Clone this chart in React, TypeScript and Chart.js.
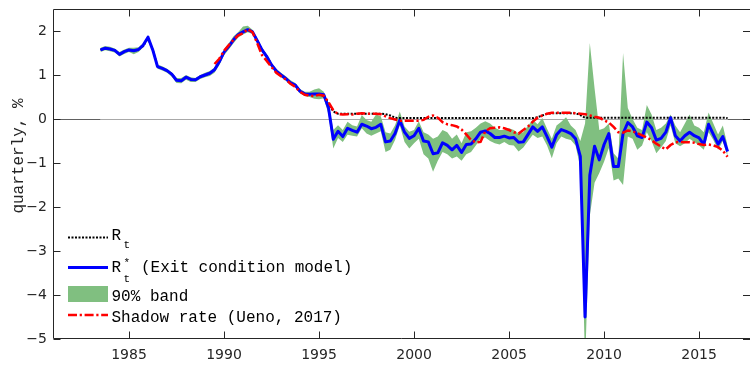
import React, { useEffect, useRef } from "react";
import { Chart, registerables } from "chart.js";

Chart.register(...registerables);

// ---- data (quarterly, starting 1983Q3 = 1983.5) ----
const START_QUARTER = 1983.5;
const SHADOW_START = 1989.5;
const X_MIN = 1981;
const X_MAX = 2017.68;
const Y_MIN = -5;
const Y_MAX = 2.5;
const xTickValues = [1985, 1990, 1995, 2000, 2005, 2010, 2015];
const yTickValues = [-5, -4, -3, -2, -1, 0, 1, 2];

// R*_t (Exit condition model)
const rStar = [
  1.57, 1.61,
  1.59, 1.56, 1.47, 1.53,
  1.57, 1.55, 1.58, 1.68,
  1.86, 1.57, 1.19, 1.15,
  1.10, 1.02, 0.88, 0.87,
  0.95, 0.90, 0.89, 0.96,
  1.00, 1.04, 1.12, 1.30,
  1.52, 1.65, 1.80, 1.92,
  1.98, 2.03, 1.98, 1.78,
  1.57, 1.42, 1.23, 1.09,
  1.00, 0.92, 0.82, 0.77,
  0.63, 0.57, 0.56, 0.57,
  0.57, 0.55, 0.25, -0.46,
  -0.28, -0.40, -0.21, -0.26,
  -0.30, -0.12, -0.16, -0.22,
  -0.19, -0.12, -0.52, -0.50,
  -0.33, -0.03, -0.30, -0.44,
  -0.38, -0.21, -0.50, -0.52,
  -0.79, -0.77, -0.54, -0.60,
  -0.70, -0.60, -0.76, -0.58,
  -0.57, -0.45, -0.30, -0.27,
  -0.33, -0.42, -0.42, -0.39,
  -0.43, -0.42, -0.53, -0.52,
  -0.35, -0.18, -0.28, -0.18,
  -0.40, -0.64, -0.36, -0.24,
  -0.28, -0.33, -0.45, -0.85,
  -4.50, -1.28, -0.62, -0.93,
  -0.58, -0.33, -1.08, -1.08,
  -0.33, -0.08, -0.18, -0.38,
  -0.42, -0.07, -0.20, -0.48,
  -0.44, -0.30, 0.03, -0.38,
  -0.50, -0.38, -0.30, -0.38,
  -0.43, -0.58, -0.12, -0.35,
  -0.57, -0.40, -0.74,
];

// R_t (observed)
const rObserved = [
  1.57, 1.61,
  1.59, 1.56, 1.47, 1.53,
  1.57, 1.55, 1.58, 1.66,
  1.84, 1.57, 1.19, 1.15,
  1.10, 1.02, 0.88, 0.87,
  0.95, 0.90, 0.89, 0.96,
  1.00, 1.04, 1.12, 1.30,
  1.52, 1.65, 1.80, 1.92,
  1.98, 2.03, 1.98, 1.78,
  1.57, 1.42, 1.23, 1.09,
  1.00, 0.92, 0.82, 0.77,
  0.63, 0.57, 0.56, 0.57,
  0.57, 0.52, 0.35, 0.17,
  0.12, 0.12, 0.12, 0.12,
  0.12, 0.12, 0.12, 0.12,
  0.12, 0.12, 0.11, 0.08,
  0.03, 0.02, 0.02, 0.02,
  0.02, 0.02, 0.02, 0.02,
  0.02, 0.02, 0.02, 0.02,
  0.02, 0.02, 0.02, 0.02,
  0.02, 0.02, 0.02, 0.02,
  0.02, 0.02, 0.02, 0.02,
  0.02, 0.02, 0.02, 0.02,
  0.02, 0.02, 0.04, 0.08,
  0.12, 0.13, 0.13, 0.13,
  0.13, 0.13, 0.13, 0.09,
  0.03, 0.03, 0.03, 0.03,
  0.03, 0.03, 0.03, 0.03,
  0.03, 0.03, 0.03, 0.03,
  0.03, 0.03, 0.03, 0.03,
  0.03, 0.03, 0.03, 0.03,
  0.03, 0.03, 0.03, 0.03,
  0.03, 0.03, 0.03, 0.03,
  0.03, 0.03, 0.02,
];

// 90% band
const bandUpper = [
  1.62, 1.66,
  1.64, 1.60, 1.52, 1.58,
  1.62, 1.62, 1.63, 1.72,
  1.90, 1.62, 1.24, 1.20,
  1.14, 1.06, 0.93, 0.93,
  1.00, 0.95, 0.93, 1.00,
  1.05, 1.09, 1.17, 1.36,
  1.58, 1.72, 1.88, 1.98,
  2.10, 2.12, 2.03, 1.83,
  1.62, 1.47, 1.28, 1.14,
  1.05, 0.97, 0.88, 0.82,
  0.68, 0.62, 0.62, 0.67,
  0.70, 0.62, 0.35, -0.25,
  -0.14, -0.25, -0.06, -0.14,
  -0.17, 0.09, -0.02, -0.06,
  0.10, 0.06, -0.30, -0.33,
  -0.14, 0.17, -0.17, -0.29,
  -0.25, -0.05, -0.30, -0.35,
  -0.45, -0.40, -0.25, -0.30,
  -0.45, -0.35, -0.55, -0.30,
  -0.28, -0.20, -0.10, -0.05,
  -0.10, -0.20, -0.25, -0.25,
  -0.21, -0.25, -0.33, -0.30,
  -0.15, -0.02, -0.12, 0.02,
  -0.22, -0.45, -0.15, -0.06,
  0.04, -0.15, -0.25, -0.50,
  -0.10, 1.73, 0.70, -0.25,
  -0.21, -0.10, -0.78, -0.90,
  1.50, 0.25, 0.00, -0.20,
  -0.25, 0.32, 0.10, -0.25,
  -0.20, -0.10, 0.10, -0.15,
  -0.30, -0.10, 0.10, -0.15,
  -0.20, -0.30, 0.15, -0.10,
  -0.35, -0.15, -0.60,
];

const bandLower = [
  1.52, 1.56,
  1.54, 1.51, 1.42, 1.48,
  1.52, 1.47, 1.52, 1.63,
  1.81, 1.52, 1.14, 1.10,
  1.05, 0.96, 0.82, 0.81,
  0.89, 0.84, 0.84, 0.91,
  0.95, 0.98, 1.05, 1.22,
  1.45, 1.58, 1.72, 1.85,
  1.92, 1.97, 1.93, 1.73,
  1.52, 1.37, 1.18, 1.04,
  0.95, 0.87, 0.77, 0.72,
  0.58, 0.52, 0.50, 0.46,
  0.45, 0.47, 0.10, -0.67,
  -0.43, -0.52, -0.36, -0.38,
  -0.40, -0.21, -0.33, -0.38,
  -0.33, -0.28, -0.75, -0.70,
  -0.48, -0.14, -0.52, -0.67,
  -0.55, -0.45, -0.80, -0.90,
  -1.20, -0.95, -0.75, -0.80,
  -0.90, -0.85, -0.95, -0.80,
  -0.75, -0.60, -0.45, -0.42,
  -0.50, -0.55, -0.58, -0.52,
  -0.59, -0.60, -0.74, -0.65,
  -0.50, -0.36, -0.43, -0.40,
  -0.60, -0.89, -0.55, -0.40,
  -0.45, -0.48, -0.60, -1.10,
  -5.60, -2.20, -1.45, -1.23,
  -0.97, -0.66, -1.40, -1.35,
  -1.50, -0.40, -0.45, -0.70,
  -0.60, -0.30, -0.50, -0.78,
  -0.65, -0.50, -0.15, -0.55,
  -0.62, -0.55, -0.45, -0.52,
  -0.60, -0.70, -0.30, -0.48,
  -0.70, -0.50, -0.85,
];

// Shadow rate (Ueno, 2017), starting 1989Q3
const shadowRate = [
  1.25, 1.37,
  1.55, 1.68, 1.80, 1.90,
  1.95, 2.04, 1.97, 1.72,
  1.45, 1.32, 1.18, 1.05,
  0.97, 0.90, 0.80, 0.73,
  0.62, 0.55, 0.53, 0.52,
  0.55, 0.53, 0.38, 0.20,
  0.11, 0.10, 0.11, 0.10,
  0.12, 0.13, 0.12, 0.12,
  0.12, 0.11, 0.06, 0.02,
  -0.01, -0.04, -0.04, -0.04,
  -0.04, -0.04, -0.02, 0.05,
  0.08, 0.03, -0.07, -0.12,
  -0.14, -0.17, -0.24, -0.35,
  -0.48, -0.53, -0.52, -0.28,
  -0.21, -0.20, -0.19, -0.21,
  -0.25, -0.30, -0.33, -0.25,
  -0.17, -0.06, 0.03, 0.08,
  0.12, 0.14, 0.14, 0.14,
  0.14, 0.14, 0.13, 0.12,
  0.11, 0.08, 0.05, 0.03,
  -0.03, -0.08, -0.18, -0.30,
  -0.31, -0.26, -0.28, -0.32,
  -0.37, -0.42, -0.48, -0.56,
  -0.63, -0.69, -0.59, -0.53,
  -0.52, -0.53, -0.53, -0.54,
  -0.57, -0.59, -0.58, -0.60,
  -0.64, -0.72, -0.86,
];

const legendLabels = {
  rt: "R",
  rtSub: "t",
  rStar: "R",
  rStarSup: "*",
  rStarSub: "t",
  rStarRest: "(Exit condition model)",
  band: "90% band",
  shadow: "Shadow rate (Ueno, 2017)",
};
const yTitle = "quarterly, %";

// ---- styles ----
const GREEN = "rgb(128,191,128)";
const BLUE = "#0000ff";
const RED = "#ff0000";
const AXIS = "#262626";
const MONO = '"Liberation Mono", "Courier New", monospace';

function toPoints(values: number[], start: number) {
  return values.map((v, i) => ({ x: start + i * 0.25, y: v }));
}

const decorPlugin = {
  id: "decor",
  beforeDatasetsDraw(chart: any) {
    const { ctx, chartArea: a, scales } = chart;
    const x = scales.x;
    const y = scales.y;
    const y0 = Math.round(y.getPixelForValue(0)) + 0.5;
    const xs = x.getPixelForValue(START_QUARTER);
    const xe = x.getPixelForValue(START_QUARTER + (rStar.length - 1) * 0.25);
    ctx.save();
    ctx.lineWidth = 1;
    ctx.strokeStyle = "#a8a8a8";
    ctx.beginPath();
    ctx.moveTo(xs, y0);
    ctx.lineTo(xe, y0);
    ctx.stroke();
    ctx.strokeStyle = "#606060";
    ctx.beginPath();
    ctx.moveTo(a.left, y0);
    ctx.lineTo(xs, y0);
    ctx.moveTo(xe, y0);
    ctx.lineTo(a.right, y0);
    ctx.stroke();
    ctx.restore();
  },
  afterDatasetsDraw(chart: any) {
    const { ctx, chartArea: a, scales } = chart;
    const x = scales.x;
    const y = scales.y;
    const L = Math.round(a.left) + 0.5;
    const T = Math.round(a.top) + 0.5;
    const B = Math.round(a.bottom) - 0.5;
    const R = a.right;
    const tl = 7;
    ctx.save();
    ctx.strokeStyle = AXIS;
    ctx.lineWidth = 1;
    ctx.setLineDash([]);
    ctx.beginPath();
    ctx.moveTo(L, B);
    ctx.lineTo(L, T);
    ctx.lineTo(R, T);
    ctx.moveTo(L, B);
    ctx.lineTo(R, B);
    for (const v of xTickValues) {
      const px = Math.round(x.getPixelForValue(v)) + 0.5;
      ctx.moveTo(px, T);
      ctx.lineTo(px, T + tl);
      ctx.moveTo(px, B);
      ctx.lineTo(px, B - tl);
    }
    for (const v of yTickValues) {
      const py = Math.round(y.getPixelForValue(v)) + 0.5;
      ctx.moveTo(L, py);
      ctx.lineTo(L + tl, py);
      ctx.moveTo(R, py);
      ctx.lineTo(R - tl, py);
    }
    ctx.stroke();

    // legend
    const lx0 = 68;
    const lx1 = 108;
    ctx.lineWidth = 2;
    ctx.strokeStyle = "#000";
    ctx.setLineDash([2, 1.5]);
    ctx.beginPath();
    ctx.moveTo(lx0, 237.5);
    ctx.lineTo(lx1, 237.5);
    ctx.stroke();

    ctx.setLineDash([]);
    ctx.strokeStyle = BLUE;
    ctx.lineWidth = 3;
    ctx.beginPath();
    ctx.moveTo(lx0, 267.5);
    ctx.lineTo(lx1, 267.5);
    ctx.stroke();

    ctx.fillStyle = GREEN;
    ctx.fillRect(lx0, 286, lx1 - lx0, 16);

    ctx.strokeStyle = RED;
    ctx.lineWidth = 2.5;
    ctx.setLineDash([9, 2.7, 2.2, 2.7]);
    ctx.beginPath();
    ctx.moveTo(lx0, 315);
    ctx.lineTo(lx1, 315);
    ctx.stroke();
    ctx.setLineDash([]);

    ctx.fillStyle = "#000";
    ctx.textAlign = "left";
    ctx.textBaseline = "alphabetic";
    ctx.font = `16px ${MONO}`;
    ctx.fillText(legendLabels.rt, 111.5, 240);
    ctx.fillText(legendLabels.rStar, 111.5, 271.5);
    ctx.fillText(legendLabels.rStarRest, 141, 272);
    ctx.fillText(legendLabels.band, 111.5, 300.5);
    ctx.fillText(legendLabels.shadow, 111.5, 321.5);
    ctx.font = `11px ${MONO}`;
    ctx.fillText(legendLabels.rtSub, 123.5, 248);
    ctx.fillText(legendLabels.rStarSup, 123.5, 266);
    ctx.fillText(legendLabels.rStarSub, 123.5, 281.5);

    // y title
    ctx.fillStyle = AXIS;
    ctx.font = `16px ${MONO}`;
    ctx.translate(19, 156);
    ctx.rotate(-Math.PI / 2);
    ctx.textAlign = "center";
    ctx.textBaseline = "middle";
    ctx.fillText(yTitle, 0, 0);
    ctx.restore();
  },
};

export default function App() {
  const canvasRef = useRef<HTMLCanvasElement | null>(null);

  useEffect(() => {
    const canvas = canvasRef.current;
    if (!canvas) return;
    const chart = new Chart(canvas, {
      type: "line",
      data: {
        datasets: [
          {
            label: "band lower",
            data: toPoints(bandLower, START_QUARTER),
            borderWidth: 0,
            borderColor: "rgba(0,0,0,0)",
            backgroundColor: "rgba(0,0,0,0)",
            pointRadius: 0,
            fill: false,
            order: 4,
          },
          {
            label: "90% band",
            data: toPoints(bandUpper, START_QUARTER),
            borderWidth: 0,
            borderColor: "rgba(0,0,0,0)",
            backgroundColor: GREEN,
            pointRadius: 0,
            fill: "-1",
            order: 3,
          },
          {
            label: "R_t",
            data: toPoints(rObserved, START_QUARTER),
            borderColor: "#000",
            borderWidth: 2,
            borderDash: [2, 1.5],
            pointRadius: 0,
            fill: false,
            order: 2,
          },
          {
            label: "R*_t (Exit condition model)",
            data: toPoints(rStar, START_QUARTER),
            borderColor: BLUE,
            borderWidth: 3,
            borderJoinStyle: "round",
            pointRadius: 0,
            fill: false,
            order: 1,
          },
          {
            label: "Shadow rate (Ueno, 2017)",
            data: toPoints(shadowRate, SHADOW_START),
            borderColor: RED,
            borderWidth: 2.5,
            borderDash: [9, 2.7, 2.2, 2.7],
            pointRadius: 0,
            fill: false,
            order: 0,
          },
        ],
      },
      options: {
        animation: false,
        responsive: false,
        devicePixelRatio: 1,
        layout: { padding: { left: 0, right: 0, top: 9, bottom: 0 } },
        plugins: {
          legend: { display: false },
          tooltip: { enabled: false },
        },
        elements: { line: { tension: 0 } },
        scales: {
          x: {
            type: "linear",
            min: X_MIN,
            max: X_MAX,
            grid: { display: false, drawTicks: false },
            border: { display: false },
            afterBuildTicks: (scale: any) => {
              scale.ticks = xTickValues.map((v) => ({ value: v }));
            },
            afterFit: (scale: any) => {
              scale.height = 28;
              scale.paddingLeft = 0;
              scale.paddingRight = 0;
            },
            ticks: {
              padding: 8,
              color: AXIS,
              font: { family: '"DejaVu Sans"', size: 14 },
              callback: (v: any) => String(v),
              maxRotation: 0,
              autoSkip: false,
            },
          },
          y: {
            type: "linear",
            min: Y_MIN,
            max: Y_MAX,
            grid: { display: false, drawTicks: false },
            border: { display: false },
            afterBuildTicks: (scale: any) => {
              scale.ticks = yTickValues.map((v) => ({ value: v }));
            },
            afterFit: (scale: any) => {
              scale.width = 53;
              scale.paddingTop = 0;
              scale.paddingBottom = 0;
            },
            ticks: {
              padding: 6,
              color: AXIS,
              font: { family: '"DejaVu Sans"', size: 14 },
              callback: (v: any) => (v < 0 ? "\u2212" + String(Math.abs(v)) : String(v)),
              autoSkip: false,
            },
          },
        },
      },
      plugins: [decorPlugin],
    } as any);
    return () => chart.destroy();
  }, []);

  return (
    <div style={{ position: "fixed", left: 0, top: 0, width: 750, height: 367, background: "#fff" }}>
      <canvas ref={canvasRef} width={750} height={367} style={{ display: "block" }} />
    </div>
  );
}
